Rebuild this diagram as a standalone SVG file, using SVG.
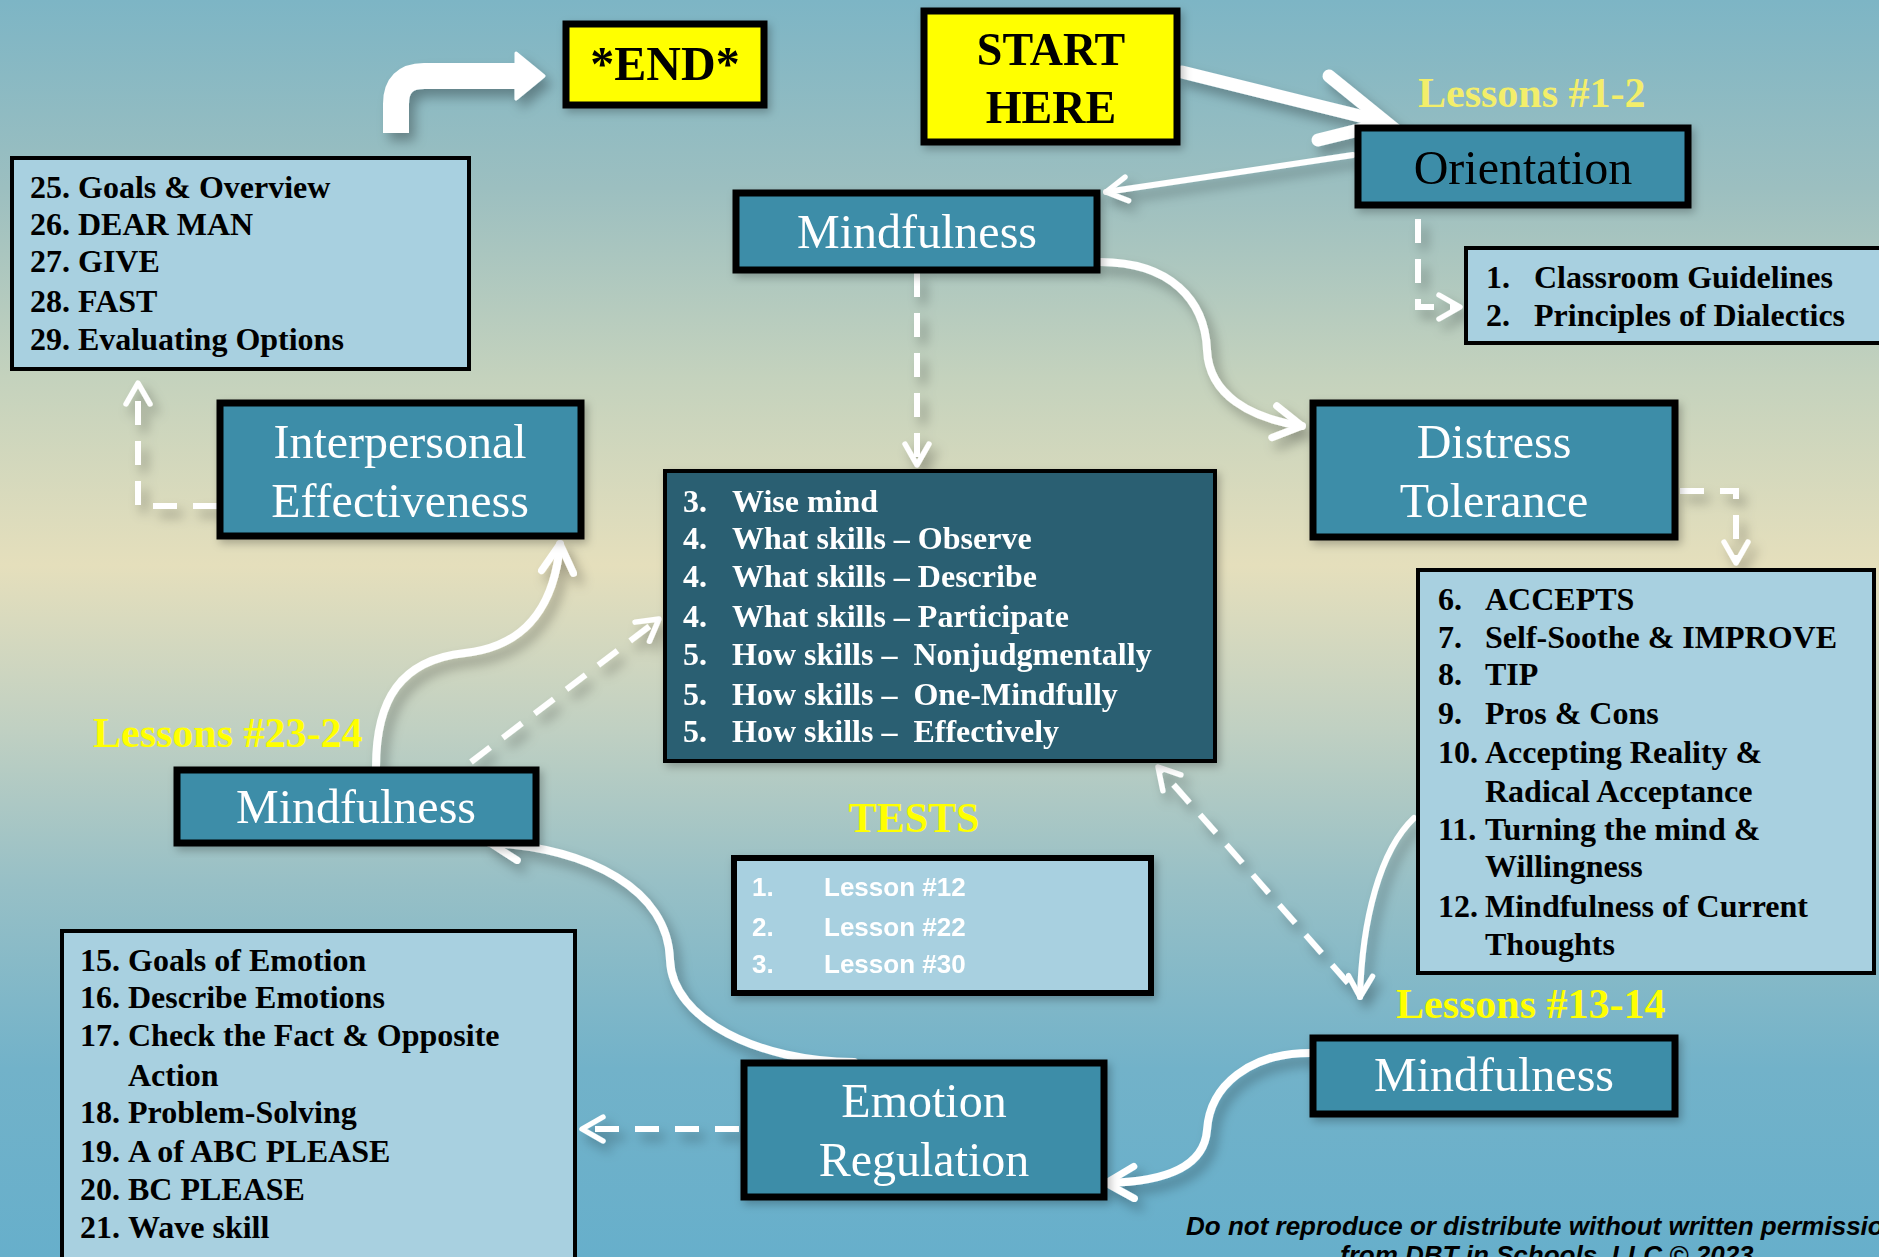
<svg xmlns="http://www.w3.org/2000/svg" width="1879" height="1257" viewBox="0 0 1879 1257">
  <defs>
    <linearGradient id="bg" x1="0" y1="0" x2="0" y2="1">
      <stop offset="0" stop-color="#7db5c5"/>
      <stop offset="0.15" stop-color="#9cbfc0"/>
      <stop offset="0.3" stop-color="#c4d2bd"/>
      <stop offset="0.45" stop-color="#e5dfbc"/>
      <stop offset="0.58" stop-color="#c0d0c2"/>
      <stop offset="0.7" stop-color="#98c0c6"/>
      <stop offset="0.85" stop-color="#72b2c9"/>
      <stop offset="1" stop-color="#67afcb"/>
    </linearGradient>
    <filter id="shadow" x="-20%" y="-20%" width="140%" height="140%">
      <feDropShadow dx="6" dy="8" stdDeviation="6" flood-color="#000" flood-opacity="0.3"/>
    </filter>
    <filter id="boxshadow" x="-10%" y="-10%" width="120%" height="130%">
      <feDropShadow dx="3" dy="4" stdDeviation="4" flood-color="#000" flood-opacity="0.25"/>
    </filter>
    <marker id="chev" viewBox="0 0 10 10" refX="8.5" refY="5" markerWidth="5" markerHeight="5" markerUnits="strokeWidth" orient="auto">
      <path d="M1.5,1 L8.5,5 L1.5,9" fill="none" stroke="#fff" stroke-width="1.8" stroke-linecap="round" stroke-linejoin="round"/>
    </marker>
    <style>
      .topic rect { fill: #3d8da8; stroke: #000; stroke-width: 7; }
      .topic text { font-family: "Liberation Serif", serif; font-size: 48px; fill: #fff; text-anchor: middle; }
      .flag rect { fill: #ffff00; stroke: #000; stroke-width: 7; }
      .flag text { font-family: "Liberation Serif", serif; font-weight: bold; fill: #000; text-anchor: middle; }
      .list rect { fill: #a8d0e0; stroke: #000; stroke-width: 4; }
      .list text { font-family: "Liberation Serif", serif; font-weight: bold; font-size: 32px; fill: #000; }
      .core rect { fill: #2a5f72; stroke: #000; stroke-width: 4; }
      .core text { font-family: "Liberation Serif", serif; font-weight: bold; font-size: 32px; fill: #fff; }
      .tests rect { fill: #a8d0e0; stroke: #000; stroke-width: 6; }
      .tests text { font-family: "Liberation Sans", Arial, sans-serif; font-weight: bold; font-size: 26px; fill: #fff; }
      .label { font-family: "Liberation Serif", serif; font-weight: bold; font-size: 42px; fill: #ffff00; }
      .solid { fill: none; stroke: #fff; stroke-width: 8; stroke-linecap: round; marker-end: url(#chev); }
      .thin { stroke-width: 6; }
      .dash { fill: none; stroke: #fff; stroke-width: 6; stroke-dasharray: 24 16; marker-end: url(#chev); }
      .note { font-family: "Liberation Sans", Arial, sans-serif; font-weight: bold; font-style: italic; font-size: 26px; fill: #000; }
    </style>
  </defs>

  <!-- backdrop -->
  <rect x="0" y="0" width="1879" height="1257" fill="url(#bg)"/>

  <!-- connectors -->
  <g id="connectors" filter="url(#shadow)">
    <!-- start arrow into Orientation -->
    <path d="M1182,72 L1380,121" fill="none" stroke="#fff" stroke-width="13" stroke-linecap="round"/>
    <path d="M1329,76 L1387,123 L1318,140" fill="none" stroke="#fff" stroke-width="13" stroke-linecap="round" stroke-linejoin="miter"/>
    <!-- Orientation to Mindfulness -->
    <path class="solid thin" d="M1353,155 L1106,192"/>
    <!-- Orientation to its topics -->
    <path class="dash" d="M1418,219 V307 H1460"/>
    <!-- Mindfulness to Distress Tolerance -->
    <path class="solid" d="M1100,262 C1170,262 1205,300 1207,350 C1209,395 1250,418 1302,426"/>
    <!-- Mindfulness to core skills -->
    <path class="dash" d="M917,273 V465"/>
    <!-- Distress Tolerance to its topics -->
    <path class="dash" d="M1680,491 H1736 V563"/>
    <!-- Distress topics to Mindfulness #13-14 -->
    <path class="solid thin" d="M1414,818 C1380,850 1362,920 1360,997"/>
    <!-- Mindfulness #13-14 back to core skills -->
    <path class="dash" d="M1348,983 L1158,767"/>
    <!-- Mindfulness #13-14 to Emotion Regulation -->
    <path class="solid" d="M1310,1053 C1250,1053 1210,1085 1207,1130 C1204,1170 1160,1182 1106,1183"/>
    <!-- Emotion Regulation to its topics -->
    <path class="dash" d="M739,1129 H582"/>
    <!-- Emotion Regulation to Mindfulness #23-24 -->
    <path class="solid" d="M854,1062 C760,1062 672,1020 670,960 C668,890 590,848 490,843"/>
    <!-- Mindfulness #23-24 to Interpersonal Effectiveness -->
    <path class="solid" d="M376,767 C376,700 400,660 465,653 C530,646 555,600 560,544"/>
    <!-- Mindfulness #23-24 back to core skills -->
    <path class="dash" d="M471,762 L659,619"/>
    <!-- Interpersonal Effectiveness to its topics -->
    <path class="dash" d="M217,506 H138 V383"/>
    <!-- bent arrow to the end -->
    <path d="M396,133 V104 Q396,76 424,76 H518" fill="none" stroke="#fff" stroke-width="26" stroke-linejoin="round"/>
    <path d="M516,53 L544,76 L516,99 Z" fill="#fff" stroke="#fff" stroke-width="3" stroke-linejoin="round"/>
  </g>

  <!-- start / end flags -->
  <g id="end" class="flag" filter="url(#boxshadow)">
    <rect x="566" y="24" width="198" height="81"/>
    <text x="665" y="80" font-size="48">*END*</text>
  </g>
  <g id="start" class="flag" filter="url(#boxshadow)">
    <rect x="924" y="11" width="253" height="131"/>
    <text x="1051" y="65" font-size="46">START</text>
    <text x="1051" y="123" font-size="46">HERE</text>
  </g>

  <!-- Orientation -->
  <text class="label" x="1418" y="107" font-size="41" style="fill:#f3ee6a">Lessons #1-2</text>
  <g id="orientation" class="topic" filter="url(#boxshadow)">
    <rect x="1358" y="128" width="330" height="77"/>
    <text x="1523" y="184" style="fill:#000">Orientation</text>
  </g>
  <g id="orientation-topics" class="list">
    <rect x="1466" y="248" width="420" height="95"/>
    <text x="1486" y="288">1.</text><text x="1534" y="288">Classroom Guidelines</text>
    <text x="1486" y="326">2.</text><text x="1534" y="326">Principles of Dialectics</text>
  </g>

  <!-- Mindfulness (opening) -->
  <g id="mindfulness-1" class="topic" filter="url(#boxshadow)">
    <rect x="736" y="193" width="361" height="77"/>
    <text x="917" y="248">Mindfulness</text>
  </g>

  <!-- core mindfulness skills -->
  <g id="core-skills" class="core" filter="url(#boxshadow)">
    <rect x="665" y="471" width="550" height="290"/>
    <text x="683" y="512">3.</text><text x="732" y="512">Wise mind</text>
    <text x="683" y="549">4.</text><text x="732" y="549">What skills – Observe</text>
    <text x="683" y="587">4.</text><text x="732" y="587">What skills – Describe</text>
    <text x="683" y="627">4.</text><text x="732" y="627">What skills – Participate</text>
    <text x="683" y="665">5.</text><text x="732" y="665" xml:space="preserve">How skills –  Nonjudgmentally</text>
    <text x="683" y="705">5.</text><text x="732" y="705" xml:space="preserve">How skills –  One-Mindfully</text>
    <text x="683" y="742">5.</text><text x="732" y="742" xml:space="preserve">How skills –  Effectively</text>
  </g>

  <!-- Distress Tolerance -->
  <g id="distress-tolerance" class="topic" filter="url(#boxshadow)">
    <rect x="1313" y="403" width="362" height="134"/>
    <text x="1494" y="458">Distress</text>
    <text x="1494" y="517">Tolerance</text>
  </g>
  <g id="distress-topics" class="list">
    <rect x="1418" y="570" width="456" height="403"/>
    <text x="1438" y="610">6.</text><text x="1485" y="610">ACCEPTS</text>
    <text x="1438" y="648">7.</text><text x="1485" y="648">Self-Soothe &amp; IMPROVE</text>
    <text x="1438" y="685">8.</text><text x="1485" y="685">TIP</text>
    <text x="1438" y="724">9.</text><text x="1485" y="724">Pros &amp; Cons</text>
    <text x="1438" y="763">10.</text><text x="1485" y="763">Accepting Reality &amp;</text>
    <text x="1485" y="802">Radical Acceptance</text>
    <text x="1438" y="840">11.</text><text x="1485" y="840">Turning the mind &amp;</text>
    <text x="1485" y="877">Willingness</text>
    <text x="1438" y="917">12.</text><text x="1485" y="917">Mindfulness of Current</text>
    <text x="1485" y="955">Thoughts</text>
  </g>

  <!-- Tests -->
  <text class="label" x="914" y="832" text-anchor="middle">TESTS</text>
  <g id="tests" class="tests" filter="url(#boxshadow)">
    <rect x="734" y="858" width="417" height="135"/>
    <text x="752" y="896">1.</text><text x="824" y="896">Lesson #12</text>
    <text x="752" y="936">2.</text><text x="824" y="936">Lesson #22</text>
    <text x="752" y="973">3.</text><text x="824" y="973">Lesson #30</text>
  </g>

  <!-- Mindfulness #13-14 -->
  <text class="label" x="1396" y="1018">Lessons #13-14</text>
  <g id="mindfulness-2" class="topic" filter="url(#boxshadow)">
    <rect x="1313" y="1038" width="362" height="76"/>
    <text x="1494" y="1091">Mindfulness</text>
  </g>

  <!-- Emotion Regulation -->
  <g id="emotion-regulation" class="topic" filter="url(#boxshadow)">
    <rect x="744" y="1063" width="360" height="134"/>
    <text x="924" y="1117">Emotion</text>
    <text x="924" y="1176">Regulation</text>
  </g>
  <g id="emotion-topics" class="list">
    <rect x="62" y="931" width="513" height="340"/>
    <text x="80" y="971">15.</text><text x="128" y="971">Goals of Emotion</text>
    <text x="80" y="1008">16.</text><text x="128" y="1008">Describe Emotions</text>
    <text x="80" y="1046">17.</text><text x="128" y="1046">Check the Fact &amp; Opposite</text>
    <text x="128" y="1086">Action</text>
    <text x="80" y="1123">18.</text><text x="128" y="1123">Problem-Solving</text>
    <text x="80" y="1162">19.</text><text x="128" y="1162">A of ABC PLEASE</text>
    <text x="80" y="1200">20.</text><text x="128" y="1200">BC PLEASE</text>
    <text x="80" y="1238">21.</text><text x="128" y="1238">Wave skill</text>
  </g>

  <!-- Mindfulness #23-24 -->
  <text class="label" x="93" y="747">Lessons #23-24</text>
  <g id="mindfulness-3" class="topic" filter="url(#boxshadow)">
    <rect x="177" y="770" width="359" height="73"/>
    <text x="356" y="823">Mindfulness</text>
  </g>

  <!-- Interpersonal Effectiveness -->
  <g id="interpersonal" class="topic" filter="url(#boxshadow)">
    <rect x="220" y="403" width="361" height="133"/>
    <text x="400" y="458">Interpersonal</text>
    <text x="400" y="517">Effectiveness</text>
  </g>
  <g id="interpersonal-topics" class="list">
    <rect x="12" y="158" width="457" height="211"/>
    <text x="30" y="198">25. Goals &amp; Overview</text>
    <text x="30" y="235">26. DEAR MAN</text>
    <text x="30" y="272">27. GIVE</text>
    <text x="30" y="312">28. FAST</text>
    <text x="30" y="350">29. Evaluating Options</text>
  </g>

  <!-- copyright notice -->
  <text class="note" x="1186" y="1235">Do not reproduce or distribute without written permission</text>
  <text class="note" x="1340" y="1264">from DBT in Schools, LLC © 2023</text>
</svg>
